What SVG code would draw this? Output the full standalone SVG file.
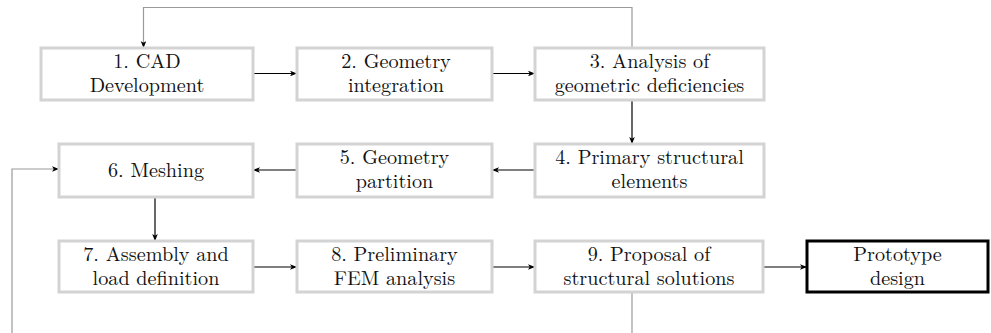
<svg xmlns="http://www.w3.org/2000/svg" width="991" height="333" viewBox="0 0 991 333">
<style>
.box{fill:#fff;stroke:#d3d3d3;stroke-width:3}
.final{fill:#fff;stroke:#000;stroke-width:3}
.a{fill:none;stroke:#000;stroke-width:1.2;marker-end:url(#ah)}
.fb{fill:none;stroke:#9a9a9a;stroke-width:1.2}
.fba{fill:none;stroke:#9a9a9a;stroke-width:1.2;marker-end:url(#ah)}
</style>
<defs>
<marker id="ah" viewBox="0 0 10 8" refX="10" refY="4" markerWidth="7" markerHeight="5.6" orient="auto" markerUnits="userSpaceOnUse">
<path d="M0,0 L10,4 L0,8 L2.5,4 Z" fill="#000"/>
</marker>
</defs>
<rect width="991" height="333" fill="#fff"/>
<g id="connectors">
<line class="a" x1="253" y1="73.5" x2="297" y2="73.5"/>
<line class="a" x1="492" y1="73.5" x2="535" y2="73.5"/>
<line class="a" x1="632" y1="100" x2="632" y2="144"/>
<line class="a" x1="535" y1="170" x2="492" y2="170"/>
<line class="a" x1="297" y1="170" x2="253" y2="170"/>
<line class="a" x1="155" y1="197" x2="155" y2="241"/>
<line class="a" x1="253" y1="267" x2="297" y2="267"/>
<line class="a" x1="492" y1="267" x2="535" y2="267"/>
<line class="a" x1="763" y1="267" x2="807" y2="267"/>
<polyline class="fba" points="632,48 632,7.5 143.5,7.5 143.5,48"/>
<polyline class="fba" points="12,333 12,169 59,169"/>
<line class="fb" x1="632" y1="292" x2="632" y2="333"/>
</g>
<g font-family="'Latin Modern Roman', 'Liberation Serif', serif" font-size="20.2" fill="#111" text-anchor="middle">
<g id="n1"><rect class="box" x="41" y="48" width="212" height="52"/><text x="147" y="68">1. CAD</text><text x="147" y="92">Development</text></g>
<g id="n2"><rect class="box" x="297" y="48" width="195" height="52"/><text x="396" y="68">2. Geometry</text><text x="396" y="92">integration</text></g>
<g id="n3"><rect class="box" x="535" y="48" width="229" height="52"/><text x="649.5" y="68">3. Analysis of</text><text x="649.5" y="92">geometric deficiencies</text></g>
<g id="n4"><rect class="box" x="535" y="144" width="229" height="53"/><text x="649.5" y="164">4. Primary structural</text><text x="649.5" y="188">elements</text></g>
<g id="n5"><rect class="box" x="297" y="144" width="195" height="53"/><text x="394.5" y="164">5. Geometry</text><text x="394.5" y="188">partition</text></g>
<g id="n6"><rect class="box" x="59" y="144" width="194" height="53"/><text x="156" y="177">6. Meshing</text></g>
<g id="n7"><rect class="box" x="59" y="241" width="194" height="51"/><text x="156" y="261">7. Assembly and</text><text x="156" y="285">load definition</text></g>
<g id="n8"><rect class="box" x="297" y="241" width="195" height="51"/><text x="394.5" y="261">8. Preliminary</text><text x="394.5" y="285">FEM analysis</text></g>
<g id="n9"><rect class="box" x="535" y="241" width="228" height="51"/><text x="649" y="261">9. Proposal of</text><text x="649" y="285">structural solutions</text></g>
<g id="n10"><rect class="final" x="807" y="241" width="181" height="51"/><text x="897.5" y="261">Prototype</text><text x="897.5" y="285">design</text></g>
</g>
</svg>
